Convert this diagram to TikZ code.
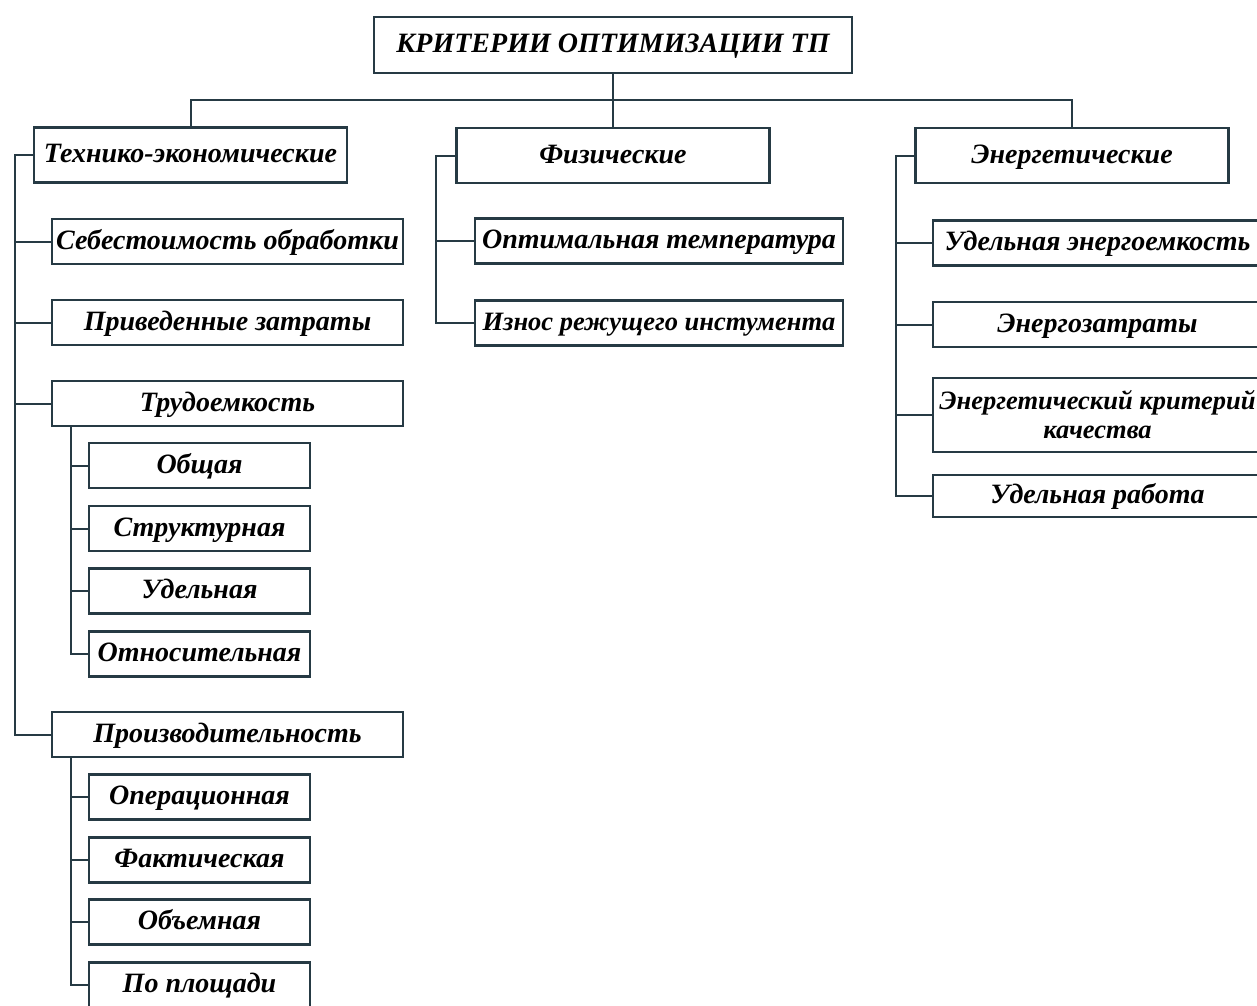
\documentclass[tikz,border=0pt]{standalone}
\usepackage{fontspec}
\setmainfont{Liberation Serif}
\usepackage{xcolor}
\usepackage{tikz}
\usetikzlibrary{calc}
\definecolor{lineslate}{RGB}{38,58,68}

\begin{document}
\begin{tikzpicture}[
  x=1pt, y=-1pt,
  base/.style={draw=lineslate, line width=2.2pt, inner sep=1pt, fill=white,
    minimum height=45pt, align=center,
    font=\fontsize{28}{30}\selectfont\bfseries\itshape},
  n/.style={base, text height=20pt, text depth=5pt},
  small/.style={font=\fontsize{26.5}{29}\selectfont\bfseries\itshape},
  top/.style={n, minimum height=56pt},
  lvl/.style={n, minimum height=55pt, minimum width=313pt},
  ln/.style={draw=lineslate, line width=2pt}
]
\clip (0,0) rectangle (1257,1005);
\fill[white] (0,0) rectangle (1257,1005);

\node[top, minimum width=478pt] (root) at (613, 45) {КРИТЕРИИ ОПТИМИЗАЦИИ ТП};
\coordinate (bus) at (613, 100);

\node[lvl] (tech) at (190.5, 155) {Технико-экономические};
\node[lvl] (phys) at (613, 155.5) {Физические};
\node[lvl] (energ) at (1072, 155.5) {Энергетические};

\draw[ln] (root) -- (bus);
\draw[ln] (tech.north) |- (bus) -| (energ.north);
\draw[ln] (bus) -- (phys.north);

% technical and economic
\node[n, minimum width=351pt] (sebest) at (227.5, 241.5) {Себестоимость обработки};
\node[n, minimum width=351pt] (privzat) at (227.5, 322.5) {Приведенные затраты};
\node[n, minimum width=351pt] (trud) at (227.5, 403.5) {Трудоемкость};
\node[n, minimum width=351pt] (proizv) at (227.5, 734.5) {Производительность};

\node[n, minimum width=221pt] (obsh) at (199.5, 465.5) {Общая};
\node[n, minimum width=221pt] (strukt) at (199.5, 528.5) {Структурная};
\node[n, minimum width=221pt] (udeln) at (199.5, 591) {Удельная};
\node[n, minimum width=221pt] (otnos) at (199.5, 654) {Относительная};

\node[n, minimum width=221pt] (operac) at (199.5, 797) {Операционная};
\node[n, minimum width=221pt] (fakt) at (199.5, 860) {Фактическая};
\node[n, minimum width=221pt] (obem) at (199.5, 922) {Объемная};
\node[n, minimum width=221pt] (plosh) at (199.5, 985) {По площади};

\coordinate (techtrunk) at ([xshift=-18]tech.west);
\draw[ln] (tech.west) -- (techtrunk) |- (proizv.west);
\foreach \c in {sebest, privzat, trud}
  \draw[ln] (techtrunk |- \c.west) -- (\c.west);

\coordinate (trudtrunk) at ([xshift=20]trud.south west);
\draw[ln] (trudtrunk) |- (otnos.west);
\foreach \c in {obsh, strukt, udeln}
  \draw[ln] (trudtrunk |- \c.west) -- (\c.west);

\coordinate (proizvtrunk) at ([xshift=20]proizv.south west);
\draw[ln] (proizvtrunk) |- (plosh.west);
\foreach \c in {operac, fakt, obem}
  \draw[ln] (proizvtrunk |- \c.west) -- (\c.west);

% physical
\node[n, minimum width=368pt] (opttemp) at (659, 241) {Оптимальная температура};
\node[n, small, minimum width=368pt] (iznos) at (659, 323) {Износ режущего инстумента};

\coordinate (phystrunk) at ([xshift=-19]phys.west);
\draw[ln] (phys.west) -- (phystrunk) |- (iznos.west);
\draw[ln] (phystrunk |- opttemp.west) -- (opttemp.west);

% energy
\node[n, minimum width=329pt] (udenerg) at (1097.5, 243) {Удельная энергоемкость};
\node[n, minimum width=329pt] (enzat) at (1097.5, 324.5) {Энергозатраты};
\node[base, small, minimum width=329pt, minimum height=74pt, inner sep=0pt] (enkrit) at (1097.5, 415) {Энергетический критерий\\качества};
\node[n, minimum width=329pt, minimum height=42pt] (udrab) at (1097.5, 496) {Удельная работа};

\coordinate (energtrunk) at ([xshift=-18]energ.west);
\draw[ln] (energ.west) -- (energtrunk) |- (udrab.west);
\foreach \c in {udenerg, enzat, enkrit}
  \draw[ln] (energtrunk |- \c.west) -- (\c.west);

\end{tikzpicture}
\end{document}
